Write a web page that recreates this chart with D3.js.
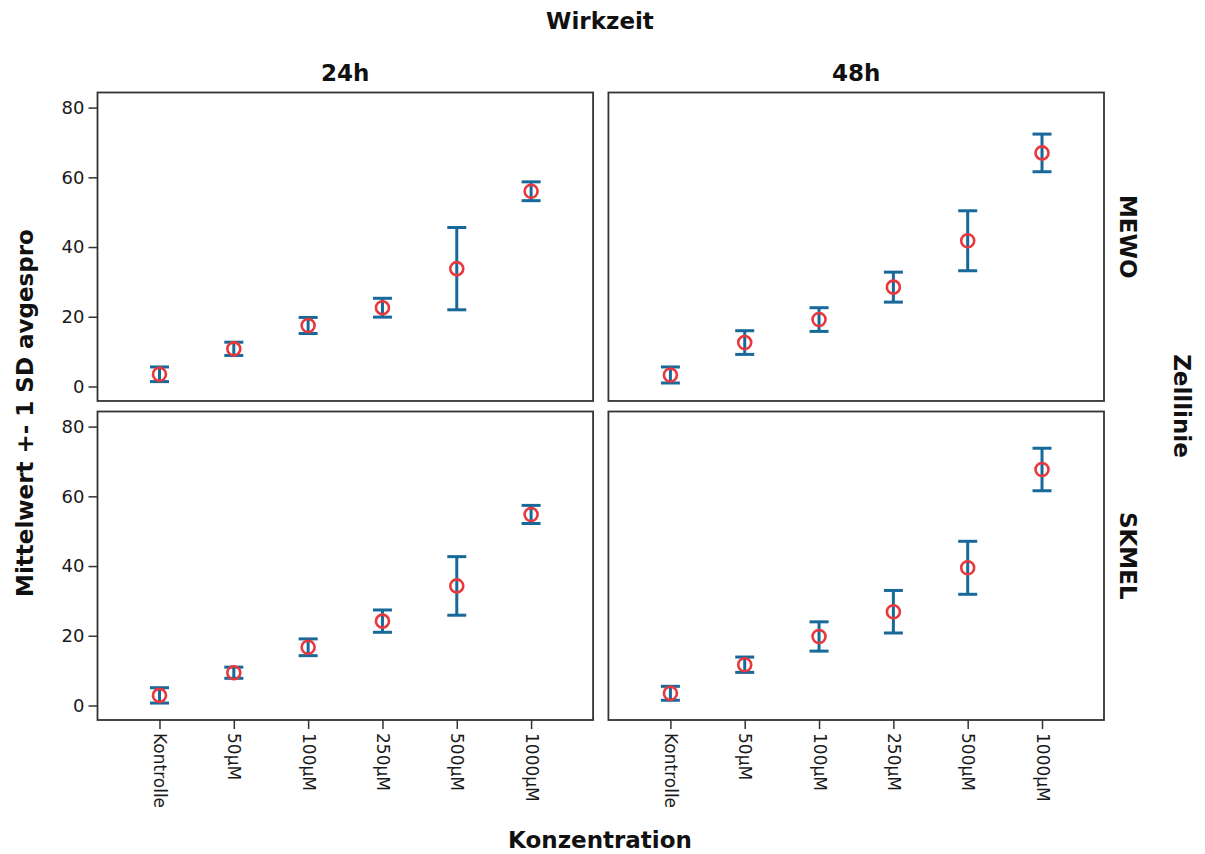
<!DOCTYPE html>
<html>
<head>
<meta charset="utf-8">
<script src="https://cdn.jsdelivr.net/npm/d3@7"></script>
<style>
  body { margin: 0; background: #fff; }
  svg { display: block; font-family: "DejaVu Sans", sans-serif; }
</style>
</head>
<body>
<svg id="chart" width="1205" height="854"></svg>
<script>
// categories
const concentrations = ["Kontrolle", "50µM", "100µM", "250µM", "500µM", "1000µM"];
const times = ["24h", "48h"];
const cellLines = ["MEWO", "SKMEL"];
const yTicks = [0, 20, 40, 60, 80];

// means and standard deviations
const meanMewo24 = [3.5, 10.8, 17.5, 22.6, 33.8, 56.0];
const sdMewo24 = [2.1, 1.9, 2.3, 2.7, 11.8, 2.7];
const meanMewo48 = [3.3, 12.6, 19.2, 28.5, 41.8, 67.0];
const sdMewo48 = [2.3, 3.4, 3.4, 4.3, 8.6, 5.4];
const meanSkmel24 = [2.9, 9.4, 16.7, 24.2, 34.3, 54.8];
const sdSkmel24 = [2.2, 1.6, 2.4, 3.2, 8.4, 2.6];
const meanSkmel48 = [3.5, 11.7, 19.8, 26.9, 39.5, 67.7];
const sdSkmel48 = [2.0, 2.2, 4.2, 6.1, 7.6, 6.1];

const panels = [
  { line: "MEWO", time: "24h", mean: meanMewo24, sd: sdMewo24 },
  { line: "MEWO", time: "48h", mean: meanMewo48, sd: sdMewo48 },
  { line: "SKMEL", time: "24h", mean: meanSkmel24, sd: sdSkmel24 },
  { line: "SKMEL", time: "48h", mean: meanSkmel48, sd: sdSkmel48 }
];

const svg = d3.select("#chart");
const barColor = "#17699a";
const dotColor = "#e8383d";
const frameColor = "#333";

// panel layout
const colX = d3.scaleBand().domain(times).range([97.5, 1104]).paddingInner(0.03);
const rowY = d3.scaleBand().domain(cellLines).range([92.5, 720]).paddingInner(0.033);
const pw = colX.bandwidth();
const ph = rowY.bandwidth();

const x = d3.scalePoint().domain(concentrations).range([0, pw]).padding(0.834);
const y = d3.scaleLinear().domain([-4.16, 84.33]).range([ph, 0]);

panels.forEach(p => {
  const g = svg.append("g")
    .attr("transform", `translate(${colX(p.time)},${rowY(p.line)})`);

  g.append("rect")
    .attr("width", pw).attr("height", ph)
    .attr("fill", "#fff")
    .attr("stroke", frameColor).attr("stroke-width", 1.8);

  const rows = concentrations.map((c, i) => ({ c, m: p.mean[i], s: p.sd[i] }));

  const bars = g.selectAll("g.bar").data(rows).enter().append("g")
    .attr("class", "bar")
    .attr("transform", d => `translate(${x(d.c)},0)`)
    .attr("stroke", barColor).attr("stroke-width", 3);

  bars.append("line")
    .attr("y1", d => y(d.m - d.s)).attr("y2", d => y(d.m + d.s));
  bars.append("line")
    .attr("x1", -9.5).attr("x2", 9.5)
    .attr("y1", d => y(d.m + d.s)).attr("y2", d => y(d.m + d.s));
  bars.append("line")
    .attr("x1", -9.5).attr("x2", 9.5)
    .attr("y1", d => y(d.m - d.s)).attr("y2", d => y(d.m - d.s));

  bars.append("circle")
    .attr("cy", d => y(d.m)).attr("r", 6.5)
    .attr("fill", "none")
    .attr("stroke", dotColor).attr("stroke-width", 2.6);

  // y axis on left column
  if (p.time === times[0]) {
    const ax = g.append("g")
      .call(d3.axisLeft(y).tickValues(yTicks).tickSize(9).tickPadding(4));
    ax.select(".domain").remove();
    ax.selectAll(".tick line").attr("stroke", frameColor).attr("stroke-width", 1.5);
    ax.selectAll(".tick text")
      .attr("fill", "#1a1a1a").style("font-size", "18px")
      .style("font-family", "'DejaVu Sans', sans-serif");
  }

  // x axis on bottom row
  if (p.line === cellLines[1]) {
    const ax = g.append("g")
      .attr("transform", `translate(0,${ph})`)
      .call(d3.axisBottom(x).tickSize(9).tickPadding(0));
    ax.select(".domain").remove();
    ax.selectAll(".tick line").attr("stroke", frameColor).attr("stroke-width", 1.5);
    ax.selectAll(".tick text")
      .attr("fill", "#1a1a1a").style("font-size", "17px")
      .style("font-family", "'DejaVu Sans', sans-serif")
      .attr("transform", "rotate(90)")
      .attr("x", 13).attr("y", 0).attr("dy", "0.35em")
      .attr("text-anchor", "start");
  }
});

// titles
const bold = sel => sel.attr("font-weight", "bold").attr("fill", "#111").style("font-size", "23px");

svg.append("text").call(bold)
  .attr("x", 600).attr("y", 29).attr("text-anchor", "middle").text("Wirkzeit");

svg.selectAll("text.col").data(times).enter().append("text").call(bold)
  .attr("class", "col")
  .attr("x", d => colX(d) + pw / 2).attr("y", 81).attr("text-anchor", "middle")
  .text(d => d);

svg.selectAll("text.row").data(cellLines).enter().append("text").call(bold)
  .attr("class", "row")
  .attr("text-anchor", "middle")
  .attr("transform", d => `translate(1120,${rowY(d) + ph / 2 - 10}) rotate(90)`)
  .text(d => d);

svg.append("text").call(bold)
  .attr("text-anchor", "middle")
  .attr("transform", "translate(1174,406) rotate(90)")
  .text("Zelllinie");

svg.append("text").call(bold)
  .attr("text-anchor", "middle")
  .attr("transform", "translate(33,413) rotate(-90)")
  .text("Mittelwert +- 1 SD avgespro");

svg.append("text").call(bold)
  .attr("x", 600).attr("y", 848).attr("text-anchor", "middle")
  .text("Konzentration");
</script>
</body>
</html>
